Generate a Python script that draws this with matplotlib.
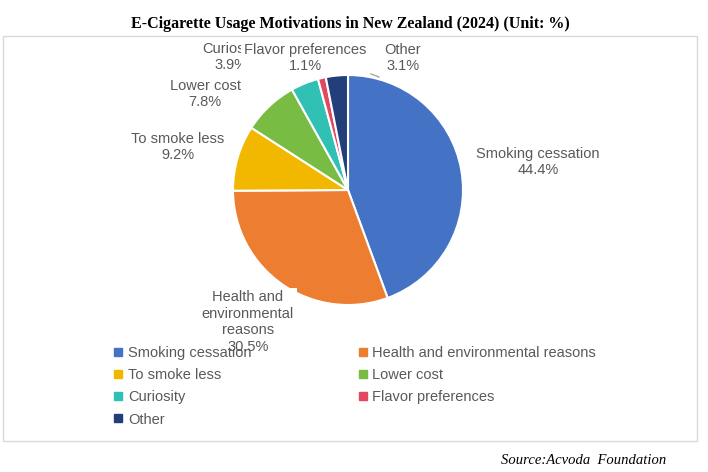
import matplotlib.pyplot as plt
from matplotlib.lines import Line2D
from matplotlib.patches import Rectangle

# dados do gráfico (%)
categorias = ['Smoking cessation', 'Health and environmental reasons', 'To smoke less',
              'Lower cost', 'Curiosity', 'Flavor preferences', 'Other']
valores = [44.4, 30.5, 9.2, 7.8, 3.9, 1.1, 3.1]
rotulos = ['Smoking cessation', 'Health and\nenvironmental\nreasons', 'To smoke less',
           'Lower cost', 'Curiosity', 'Flavor preferences', 'Other']
cores = ['#4472C4', '#ED7D31', '#F2B800', '#78BC44', '#30C1B4', '#E34860', '#233F7A']

W, H = 708, 472
cinza = '#595959'

fig = plt.figure(figsize=(W / 100, H / 100), dpi=100)
ax = fig.add_axes([0, 0, 1, 1])


def px(x, y):
    # converte coordenadas de pixel (origem no topo) para o eixo
    return x, H - y


wedges, _ = ax.pie(valores, colors=cores, startangle=90, counterclock=False,
                   center=px(348, 190), radius=115,
                   wedgeprops=dict(edgecolor='white', linewidth=1.5))

# o pie mexe nos limites, então define depois
ax.set_xlim(0, W)
ax.set_ylim(0, H)
ax.set_aspect('equal')
ax.axis('off')

# moldura do gráfico
x0, y0 = px(3, 441)
ax.add_patch(Rectangle((x0, y0), 694, 405, fill=False, ec='#D9D9D9', lw=1))

# posições dos rótulos (centro, em pixels)
pos_rotulos = [(538, 162), (248, 322), (178, 147), (205, 94), (231, 57), (305, 58), (403, 58)]
for i, (nome, v) in enumerate(zip(rotulos, valores)):
    x, y = px(*pos_rotulos[i])
    caixa = None
    if i in (1, 5):
        caixa = dict(fc='white', ec='none', pad=2)
    ax.text(x, y, f'{nome}\n{v}%', ha='center', va='center', fontsize=10.5,
            color=cinza, family='Liberation Sans', linespacing=1.22, bbox=caixa,
            zorder=5 if i == 5 else 4)

# linha de chamada do rótulo "Other"
ax.plot(*zip(px(371, 74), px(379, 77)), color='#A6A6A6', lw=1)

# legenda em duas colunas (ordem por linha)
ordem = [0, 2, 4, 6, 1, 3, 5]
handles = [Line2D([], [], marker='s', ls='', markersize=5.5, color=cores[i]) for i in ordem]
labels = [categorias[i] for i in ordem]
fig.legend(handles, labels, loc='upper left', bbox_to_anchor=(114 / W, 1 - 346 / H),
           ncol=2, frameon=False, labelcolor=cinza,
           prop={'family': 'Liberation Sans', 'size': 10.5},
           handlelength=0.6, handletextpad=0.35, columnspacing=7.35,
           labelspacing=0.56, borderpad=0, borderaxespad=0)

fig.text(350 / W, 1 - 24 / H, 'E-Cigarette Usage Motivations in New Zealand (2024) (Unit: %)',
         ha='center', va='center', fontsize=11.5, fontweight='bold', family='Liberation Serif')
fig.text(666 / W, 1 - 460 / H, 'Source:Acvoda  Foundation', ha='right', va='center',
         fontsize=10.5, style='italic', family='Liberation Serif')

fig.savefig('out.png', dpi=100)
